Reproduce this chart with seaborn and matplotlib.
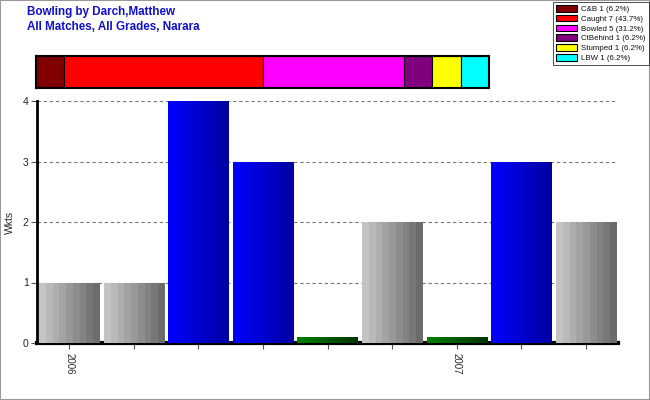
import numpy as np
import pandas as pd
import matplotlib
matplotlib.use("Agg")
import matplotlib.pyplot as plt
from matplotlib.patches import Rectangle
from matplotlib.colors import LinearSegmentedColormap
import seaborn as sns

# ---- data ----
match_labels = ["2006", "", "", "", "", "", "2007", "", ""]
wickets = [1, 1, 4, 3, 0.1, 2, 0.1, 3, 2]
bar_group = ["grey", "grey", "blue", "blue", "green", "grey", "green", "blue", "grey"]

dismissal_types = ["C&B", "Caught", "Bowled", "CtBehind", "Stumped", "LBW"]
dismissal_counts = [1, 7, 5, 1, 1, 1]
dismissal_pcts = ["6.2%", "43.7%", "31.2%", "6.2%", "6.2%", "6.2%"]
dismissal_colors = ["#800000", "#FF0000", "#FF00FF", "#800080", "#FFFF00", "#00FFFF"]

sns.set_theme(style="white")
plt.rcParams["font.family"] = ["Liberation Sans", "DejaVu Sans"]

fig = plt.figure(figsize=(6.5, 4.0), dpi=100)
fig.patch.set_facecolor("white")

ax = fig.add_axes([37/650, 1-343/400, (618-37)/650, (343-101)/400])

df = pd.DataFrame({"idx": [str(i) for i in range(len(wickets))],
                   "wickets": wickets, "group": bar_group})
base = {"grey": "#9a9a9a", "blue": "#0000DD", "green": "#005500"}
sns.barplot(data=df, x="idx", y="wickets", hue="group", palette=base,
            width=0.93, dodge=False, legend=False, ax=ax, zorder=3,
            linewidth=0, saturation=1)

grads = {
    "grey": LinearSegmentedColormap.from_list("g", ["#C4C4C4", "#6C6C6C"], N=9),
    "blue": LinearSegmentedColormap.from_list("b", ["#0000FF", "#0000A0"]),
    "green": LinearSegmentedColormap.from_list("gr", ["#008000", "#003300"]),
}
grad = np.linspace(0, 1, 256).reshape(1, -1)
bars = sorted([p for p in ax.patches if np.isfinite(p.get_height()) and p.get_height() > 0],
              key=lambda p: p.get_x())
for patch, grp in zip(bars, bar_group):
    x0, w, h = patch.get_x(), patch.get_width(), patch.get_height()
    im = ax.imshow(grad, cmap=grads[grp], aspect="auto",
                   extent=[x0, x0 + w, 0, h], zorder=4, interpolation="nearest")
    im.set_clip_path(patch)

ax.set_xlim(-0.5, len(wickets) - 0.5)
ax.set_ylim(0, 4)
ax.set_yticks([0, 1, 2, 3, 4])
ax.set_yticklabels(["0", "1", "2", "3", "4"], fontsize=7.5)
ax.set_xticks(range(len(wickets)))
ax.set_xticklabels(match_labels, rotation=-90, fontsize=7)
ax.tick_params(axis="both", which="both", length=4, width=0.8, color="#555555",
               direction="out", pad=2, bottom=True, left=True)
ax.tick_params(axis="x", pad=3)
ax.set_xlabel("")
ax.set_ylabel("Wkts", fontsize=7.5, labelpad=6)
for y in [1, 2, 3, 4]:
    ax.axhline(y, color="#777777", linestyle=(0, (3, 2.5)), linewidth=0.8, zorder=1)
for s in ["top", "right"]:
    ax.spines[s].set_visible(False)
ax.spines["left"].set_linewidth(2)
ax.spines["left"].set_color("black")
ax.spines["bottom"].set_linewidth(3)
ax.spines["bottom"].set_color("black")
ax.set_facecolor("white")

# ---- top stacked bar ----
ax2 = fig.add_axes([36/650, 1-88/400, (489-36)/650, 32/400])
lefts = np.concatenate([[0], np.cumsum(dismissal_counts)[:-1]])
handles = []
for name, cnt, pct, col, lft in zip(dismissal_types, dismissal_counts, dismissal_pcts,
                                    dismissal_colors, lefts):
    b = ax2.barh([0], [cnt], left=[lft], height=1.0, color=col, edgecolor="black",
                 linewidth=0.8, label=f"{name} {cnt} ({pct})")
    handles.append(b)
ax2.set_xlim(0, sum(dismissal_counts))
ax2.set_ylim(-0.5, 0.5)
ax2.set_xticks([])
ax2.set_yticks([])
for s in ax2.spines.values():
    s.set_linewidth(1.5)
    s.set_color("black")

leg = fig.legend(handles=handles, loc="upper right", bbox_to_anchor=(649/650, 1-2/400),
                 fontsize=5.7, frameon=True, fancybox=False, edgecolor="black",
                 handlelength=2.6, handleheight=0.9, labelspacing=0.22,
                 borderpad=0.4, handletextpad=0.6, borderaxespad=0)
leg.get_frame().set_linewidth(0.6)
for t in leg.get_texts():
    t.set_color("#111111")

# ---- titles ----
fig.text(27/650, 1-12/400, "Bowling by Darch,Matthew", fontsize=8.4, fontweight="bold",
         color="#1010CC", va="center", ha="left")
fig.text(27/650, 1-27/400, "All Matches, All Grades, Narara", fontsize=8.4,
         fontweight="bold", color="#1010CC", va="center", ha="left")

# outer frame
fig.patches.append(Rectangle((0, 0), 1, 1, transform=fig.transFigure, fill=False,
                             edgecolor="#999999", linewidth=1.5))

fig.savefig("out.png", dpi=100)
